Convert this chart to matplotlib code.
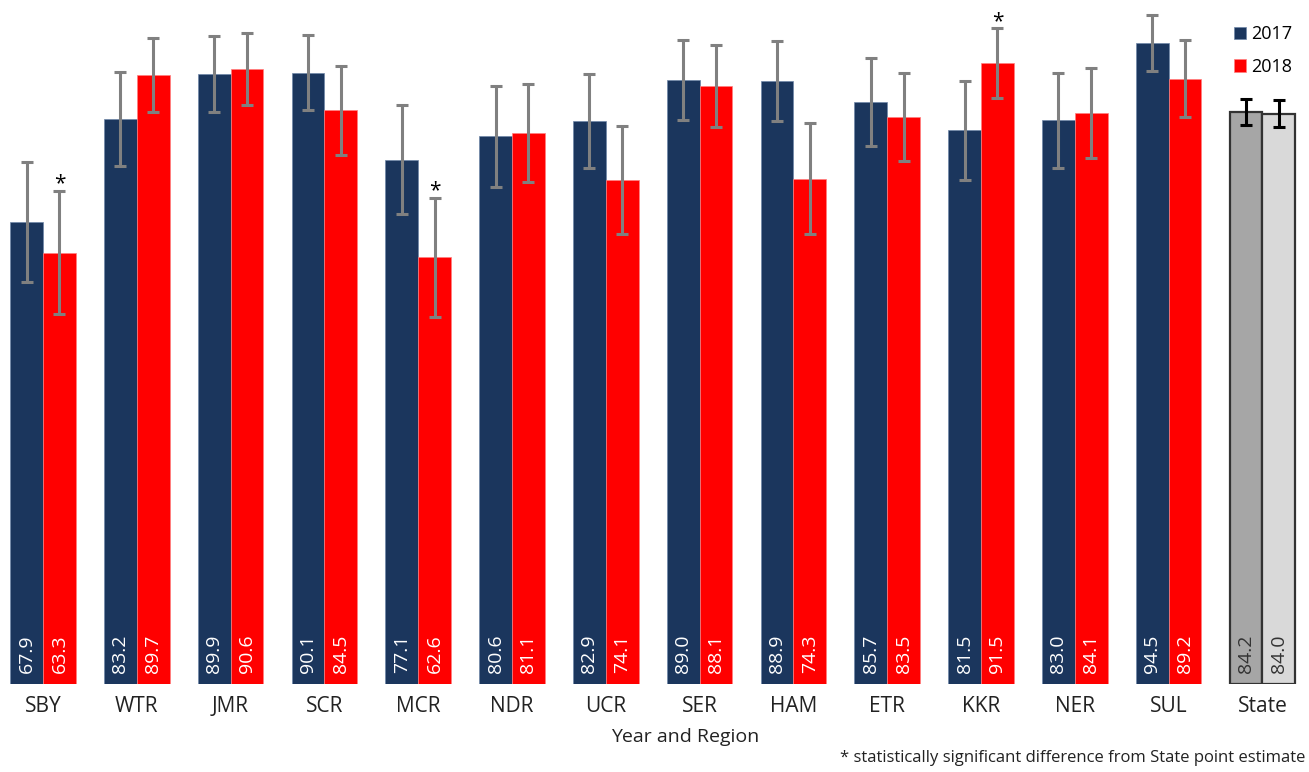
import matplotlib
matplotlib.use("Agg")
import matplotlib.pyplot as plt
import numpy as np

plt.rcParams["font.family"] = ["Open Sans", "DejaVu Sans"]

regions = ["SBY", "WTR", "JMR", "SCR", "MCR", "NDR", "UCR",
           "SER", "HAM", "ETR", "KKR", "NER", "SUL"]
val_2017 = [67.9, 83.2, 89.9, 90.1, 77.1, 80.6, 82.9, 89.0, 88.9, 85.7, 81.5, 83.0, 94.5]
val_2018 = [63.3, 89.7, 90.6, 84.5, 62.6, 81.1, 74.1, 88.1, 74.3, 83.5, 91.5, 84.1, 89.2]
err_2017 = [8.9, 7.0, 5.7, 5.6, 8.1, 7.5, 7.0, 5.95, 5.95, 6.5, 7.4, 7.1, 4.2]
err_2018 = [9.2, 5.5, 5.4, 6.65, 8.9, 7.3, 8.0, 6.1, 8.3, 6.6, 5.2, 6.75, 5.75]
sig_2018 = ["SBY", "MCR", "KKR"]

state_label = "State"
state_vals = [84.2, 84.0]
state_errs = [1.9, 1.95]

navy = "#1b365d"
red = "#ff0000"
base = -0.9
w = 0.35

fig = plt.figure(figsize=(13.09, 7.72), dpi=100)
ax = fig.add_axes([0, 1 - 684 / 772, 1, 684 / 772])

x = np.arange(len(regions))
ax.bar(x - w / 2, np.array(val_2017) - base, w, bottom=base, color=navy,
       edgecolor="#6f86a8", linewidth=0.5, label="2017")
ax.bar(x + w / 2, np.array(val_2018) - base, w, bottom=base, color=red,
       edgecolor="#ff8080", linewidth=0.5, label="2018")
ax.errorbar(x - w / 2, val_2017, yerr=err_2017, fmt="none", ecolor="#808080",
            elinewidth=2.2, capsize=4.5, capthick=2.2)
ax.errorbar(x + w / 2, val_2018, yerr=err_2018, fmt="none", ecolor="#808080",
            elinewidth=2.2, capsize=4.5, capthick=2.2)

xs = len(regions)
ax.bar([xs - w / 2, xs + w / 2], np.array(state_vals) - base, w, bottom=base,
       color=["#a6a6a6", "#d9d9d9"], edgecolor="#333333", linewidth=1.6)
ax.errorbar([xs - w / 2, xs + w / 2], state_vals, yerr=state_errs, fmt="none",
            ecolor="black", elinewidth=2.2, capsize=4.5, capthick=2.2)

for i in range(len(regions)):
    ax.text(x[i] - w / 2, 0.7, f"{val_2017[i]:.1f}", rotation=90, color="white",
            ha="center", va="bottom", fontsize=14)
    ax.text(x[i] + w / 2, 0.7, f"{val_2018[i]:.1f}", rotation=90, color="white",
            ha="center", va="bottom", fontsize=14)
    if regions[i] in sig_2018:
        ax.text(x[i] + w / 2, val_2018[i] + err_2018[i] + 0.2, "*", ha="center",
                va="baseline", fontsize=15)
for j, v in enumerate(state_vals):
    ax.text(xs + (j - 0.5) * w, 0.7, f"{v:.1f}", rotation=90, color="#333333",
            ha="center", va="bottom", fontsize=14)

ax.set_xticks(list(x) + [xs])
ax.set_xticklabels(regions + [state_label], fontsize=15, color="#222222")
ax.tick_params(axis="x", length=0, pad=9)
ax.set_yticks([])
for s in ax.spines.values():
    s.set_visible(False)
ax.set_xlim(-0.458, 13.497)
ax.set_ylim(base, 100.9)

ax.set_xlabel("Year and Region", fontsize=14, color="#222222")
ax.xaxis.set_label_coords(685 / 1309, -(728 - 684) / 684)

ax.legend(loc="upper right", bbox_to_anchor=(1309 / 1309, 1 - 9 / 684),
          frameon=False, fontsize=13, handlelength=0.7, handleheight=0.7,
          handletextpad=0.3, labelspacing=0.8)

fig.text(1305 / 1309, 1 - 758 / 772, "* statistically significant difference from State point estimate",
         ha="right", va="center", fontsize=12, color="#222222")

fig.savefig("out.png")
